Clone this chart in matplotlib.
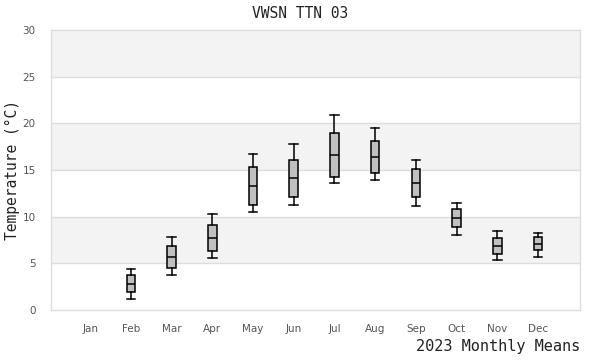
import numpy as np
import matplotlib
matplotlib.use("Agg")
import matplotlib.pyplot as plt

# monthly temperature distribution (Jan has no data)
months = ["Jan", "Feb", "Mar", "Apr", "May", "Jun",
          "Jul", "Aug", "Sep", "Oct", "Nov", "Dec"]
whisker_low = [np.nan, 1.15, 3.71, 5.54, 10.46, 11.21, 13.57, 13.89, 11.11, 8.0, 5.32, 5.64]
q1 = [np.nan, 1.9, 4.46, 6.29, 11.21, 12.07, 14.21, 14.64, 12.07, 8.86, 6.0, 6.39]
median = [np.nan, 2.75, 5.64, 7.68, 13.27, 14.11, 16.57, 16.37, 13.6, 9.86, 6.89, 7.04]
q3 = [np.nan, 3.7, 6.82, 9.07, 15.29, 16.04, 18.93, 18.07, 15.07, 10.86, 7.75, 7.79]
whisker_high = [np.nan, 4.36, 7.86, 10.25, 16.68, 17.75, 20.86, 19.46, 16.12, 11.43, 8.43, 8.21]

mono = "DejaVu Sans Mono"
grid_col = "#dddddd"

fig = plt.figure(figsize=(6, 3.6), dpi=100)
ax = fig.add_axes([51 / 600, 50 / 360, 529 / 600, 280 / 360])

# alternating background bands
for lo in range(5, 30, 10):
    ax.axhspan(lo, lo + 5, color="#f3f3f3", zorder=0, lw=0)
for y in range(5, 30, 5):
    ax.axhline(y, color=grid_col, lw=1.0, zorder=1)

stats = []
positions = []
for i in range(len(months)):
    if np.isnan(median[i]):
        continue
    stats.append({"whislo": whisker_low[i], "q1": q1[i], "med": median[i],
                  "q3": q3[i], "whishi": whisker_high[i], "fliers": []})
    positions.append(i + 1)

ax.bxp(stats, positions=positions, widths=0.21, capwidths=0.21,
       patch_artist=True, showfliers=False,
       boxprops=dict(facecolor="#c0c0c0", edgecolor="black", lw=1.1),
       medianprops=dict(color="black", lw=1.1),
       whiskerprops=dict(color="black", lw=1.1),
       capprops=dict(color="black", lw=1.1), zorder=3)

ax.set_xlim(0.04, 13.03)
ax.set_ylim(0, 30)
ax.set_xticks(range(1, 13))
ax.set_xticklabels(months)
ax.set_yticks(range(0, 31, 5))
ax.tick_params(axis="both", length=0, labelsize=7.5, labelcolor="#555555")
ax.tick_params(axis="y", pad=11)
ax.tick_params(axis="x", pad=10)
for s in ax.spines.values():
    s.set_color(grid_col)
    s.set_linewidth(1.0)

ax.set_ylabel("Temperature (°C)", fontsize=10.5, family=mono, color="#222222")
ax.yaxis.set_label_coords(-31 / 529, 0.5)
fig.text(0.5, 1 - 14 / 360, "VWSN TTN 03", ha="center", va="center",
         fontsize=10.5, family=mono, color="#222222")
fig.text(580 / 600, 1 - 347 / 360, "2023 Monthly Means", ha="right", va="center",
         fontsize=11, family=mono, color="#222222")

fig.savefig("out.png", dpi=100)
